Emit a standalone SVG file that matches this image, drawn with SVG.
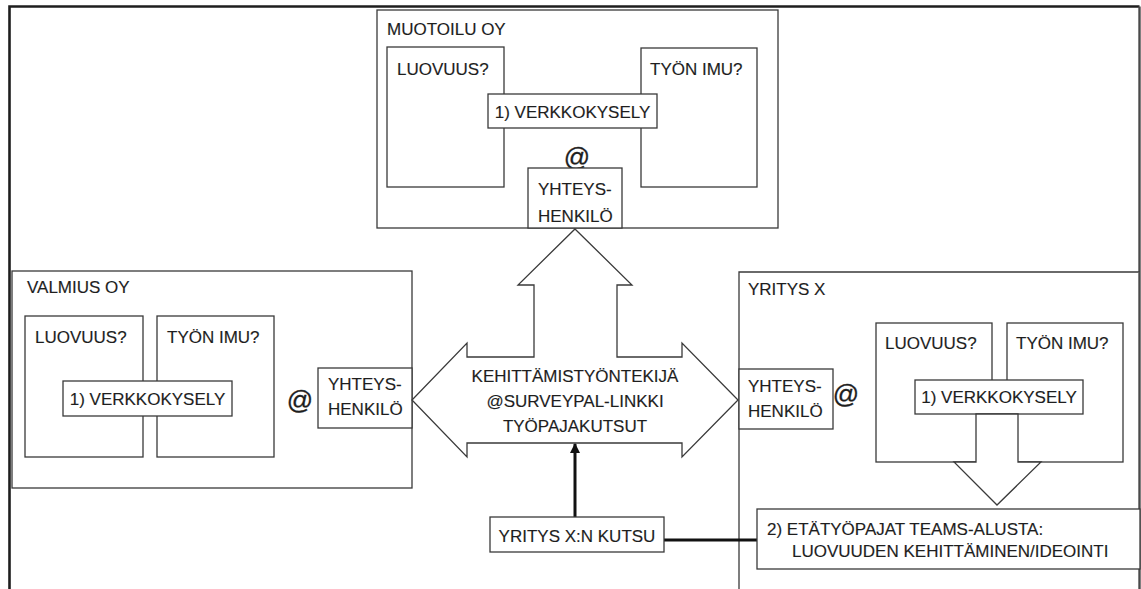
<svg xmlns="http://www.w3.org/2000/svg" width="1141" height="589" viewBox="0 0 1141 589">
  <style>
    .box { fill: #ffffff; stroke: #3a3a3a; stroke-width: 1.3; }
    .t { font-family: "Liberation Sans", Arial, sans-serif; font-size: 17px; fill: #1e1e1e; stroke: #1e1e1e; stroke-width: 0.15; }
    .mid { text-anchor: middle; }
    .at { font-family: "Liberation Sans", Arial, sans-serif; font-size: 26px; fill: #1e1e1e; stroke: #1e1e1e; stroke-width: 0.3; text-anchor: middle; }
    .frame { fill: none; stroke: #1e1e1e; stroke-width: 2.6; }
    .thick { fill: none; stroke: #111111; stroke-width: 3; }
    .shape { fill: #ffffff; stroke: #3a3a3a; stroke-width: 1.3; stroke-linejoin: miter; }
  </style>
  <defs>
    <marker id="head" viewBox="0 0 10 10" refX="9" refY="5" markerWidth="3.4" markerHeight="3.4" orient="auto">
      <path d="M0,0 L10,5 L0,10 z" fill="#111111"/>
    </marker>
  </defs>

  <rect width="1141" height="589" fill="#ffffff"/>

  <!-- outer frame, open at the bottom -->
  <g id="frame">
    <path class="frame" d="M9.5,589 V6.5 H1139.5"/>
    <path d="M1139.5,6.5 V589" fill="none" stroke="#4a4a4a" stroke-width="2.4"/>
  </g>

  <!-- company: Muotoilu Oy -->
  <g id="muotoilu">
    <rect class="box" x="377" y="10" width="401" height="218"/>
    <text class="t" x="387" y="35">MUOTOILU OY</text>
    <rect class="box" x="387" y="47" width="117" height="140"/>
    <text class="t" x="397" y="75">LUOVUUS?</text>
    <rect class="box" x="641" y="48" width="116" height="139"/>
    <text class="t" x="650" y="75">TYÖN IMU?</text>
    <rect class="box" x="488" y="94" width="169" height="34"/>
    <text class="t mid" x="572.5" y="118">1) VERKKOKYSELY</text>
    <text class="at" x="577" y="166">@</text>
    <rect class="box" x="528" y="168" width="94" height="60"/>
    <text class="t" x="538" y="195">YHTEYS-</text>
    <text class="t" x="538" y="222">HENKILÖ</text>
  </g>

  <!-- company: Valmius Oy -->
  <g id="valmius">
    <rect class="box" x="12" y="271" width="400" height="217"/>
    <text class="t" x="27" y="293">VALMIUS OY</text>
    <rect class="box" x="25" y="316" width="118" height="141"/>
    <text class="t" x="35" y="343">LUOVUUS?</text>
    <rect class="box" x="157" y="316" width="117" height="141"/>
    <text class="t" x="167" y="343">TYÖN IMU?</text>
    <rect class="box" x="63" y="381" width="169" height="35"/>
    <text class="t mid" x="147.5" y="405">1) VERKKOKYSELY</text>
    <text class="at" x="300" y="409">@</text>
    <rect class="box" x="318" y="368" width="94" height="60"/>
    <text class="t" x="328" y="390">YHTEYS-</text>
    <text class="t" x="328" y="415">HENKILÖ</text>
  </g>

  <!-- company: Yritys X -->
  <g id="yritys-x">
    <path class="box" d="M1139.5,272 H739 V589"/>
    <text class="t" x="748" y="295">YRITYS X</text>
    <rect class="box" x="739" y="369" width="94" height="60"/>
    <text class="t" x="748" y="392">YHTEYS-</text>
    <text class="t" x="748" y="417">HENKILÖ</text>
    <text class="at" x="846" y="403">@</text>
    <rect class="box" x="876" y="323" width="116" height="139"/>
    <text class="t" x="885" y="349">LUOVUUS?</text>
    <rect class="box" x="1007" y="323" width="116" height="139"/>
    <text class="t" x="1016" y="349">TYÖN IMU?</text>
    <rect class="box" x="915" y="380" width="168" height="34"/>
    <text class="t mid" x="999" y="403">1) VERKKOKYSELY</text>
  </g>

  <!-- connectors -->
  <g id="connectors">
    <!-- central three-way block arrow -->
    <polygon class="shape" points="575,229 632,285 617,285 617,357 682,357 682,343 738,400 682,457 682,443 467,443 467,457 412,400 467,343 467,357 534,357 534,285 518,285"/>
    <!-- survey to workshops block arrow -->
    <polygon class="shape" points="976,414 1018,414 1018,462 1041,462 997,505 954,462 976,462"/>
    <!-- invitation links -->
    <line class="thick" x1="575" y1="517" x2="575" y2="444" marker-end="url(#head)"/>
    <line class="thick" x1="664" y1="540" x2="757" y2="540"/>
  </g>

  <!-- centre label on the block arrow -->
  <g id="kehittamistyontekija">
    <text class="t mid" x="575" y="382">KEHITTÄMISTYÖNTEKIJÄ</text>
    <text class="t mid" x="575" y="407">@SURVEYPAL-LINKKI</text>
    <text class="t mid" x="575" y="432">TYÖPAJAKUTSUT</text>
  </g>

  <!-- invitation from Yritys X -->
  <g id="kutsu">
    <rect class="box" x="490" y="517" width="174" height="35"/>
    <text class="t mid" x="577" y="542">YRITYS X:N KUTSU</text>
  </g>

  <!-- remote workshops -->
  <g id="etatyopajat">
    <rect class="box" x="757" y="509" width="383" height="60"/>
    <text class="t" x="767" y="535">2) ETÄTYÖPAJAT TEAMS-ALUSTA:</text>
    <text class="t" x="792" y="557">LUOVUUDEN KEHITTÄMINEN/IDEOINTI</text>
  </g>
</svg>
